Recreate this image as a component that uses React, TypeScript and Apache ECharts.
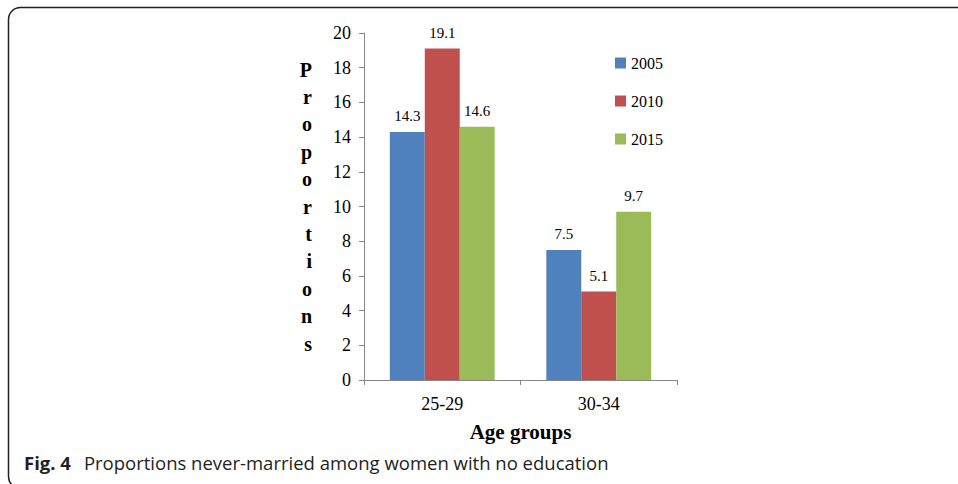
import React, { useEffect, useRef } from "react";
import * as echarts from "echarts";

const ageGroups = ["25-29", "30-34"];
const years = ["2005", "2010", "2015"];
const values2005 = [14.3, 7.5];
const values2010 = [19.1, 5.1];
const values2015 = [14.6, 9.7];
const yTicks = { min: 0, max: 20, interval: 2 };

const colors = ["#4F81BD", "#C0504D", "#9BBB59"];
const serif = "'Liberation Serif', 'Times New Roman', serif";
const sans = "'Open Sans', 'Noto Sans', sans-serif";

export default function App() {
  const ref = useRef<HTMLDivElement>(null);

  useEffect(() => {
    if (!ref.current) return;
    const chart = echarts.init(ref.current, undefined, { renderer: "svg" });
    const seriesValues = [values2005, values2010, values2015];

    chart.setOption({
      animation: false,
      backgroundColor: "#ffffff",
      grid: { left: 364, right: 281, top: 33, bottom: 104 },
      legend: {
        orient: "vertical",
        left: 610,
        top: 50,
        itemWidth: 11,
        itemHeight: 11,
        itemGap: 22,
        icon: "rect",
        data: years,
        textStyle: { fontFamily: serif, fontSize: 16, color: "#000" },
      },
      xAxis: {
        type: "category",
        data: ageGroups,
        name: "Age groups",
        nameLocation: "middle",
        nameGap: 41,
        nameTextStyle: { fontFamily: serif, fontSize: 21, fontWeight: "bold", color: "#000" },
        axisLine: { lineStyle: { color: "#868686", width: 1 } },
        axisTick: { show: true, length: 5, lineStyle: { color: "#868686" } },
        axisLabel: { fontFamily: serif, fontSize: 18, color: "#000", margin: 15 },
      },
      yAxis: {
        type: "value",
        min: yTicks.min,
        max: yTicks.max,
        interval: yTicks.interval,
        name: "Proportions".split("").join("\n"),
        nameLocation: "middle",
        nameRotate: 0,
        nameGap: 52,
        nameTextStyle: {
          fontFamily: serif,
          fontSize: 20,
          fontWeight: "bold",
          color: "#000",
          lineHeight: 27.4,
        },
        splitLine: { show: false },
        axisLine: { show: true, lineStyle: { color: "#868686", width: 1 } },
        axisTick: { show: true, length: 5, lineStyle: { color: "#868686" } },
        axisLabel: { fontFamily: serif, fontSize: 18, color: "#000", margin: 13 },
      },
      series: years.map((y, i) => ({
        name: y,
        type: "bar",
        data: seriesValues[i],
        barGap: "0%",
        barCategoryGap: "33%",
        itemStyle: { color: colors[i] },
        label: {
          show: true,
          position: "top",
          distance: 8,
          fontFamily: serif,
          fontSize: 15,
          color: "#000",
        },
      })),
      graphic: [
        {
          type: "rect",
          shape: { x: 8.5, y: 7.5, width: 1000, height: 481, r: [12, 0, 0, 12] },
          style: { fill: "none", stroke: "#231f20", lineWidth: 1.5 },
          silent: true,
        },
        {
          type: "text",
          left: 24,
          top: 453,
          style: {
            text: "{b|Fig. 4}{n|Proportions never-married among women with no education}",
            rich: {
              b: {
                fontFamily: sans,
                fontSize: 18.5,
                fontWeight: "bold",
                fill: "#231f20",
                padding: [0, 13, 0, 0],
              },
              n: { fontFamily: sans, fontSize: 18.5, fill: "#231f20" },
            },
          },
        },
      ],
    });

    return () => chart.dispose();
  }, []);

  return (
    <div
      ref={ref}
      style={{ position: "fixed", left: 0, top: 0, width: 958, height: 484 }}
    />
  );
}
